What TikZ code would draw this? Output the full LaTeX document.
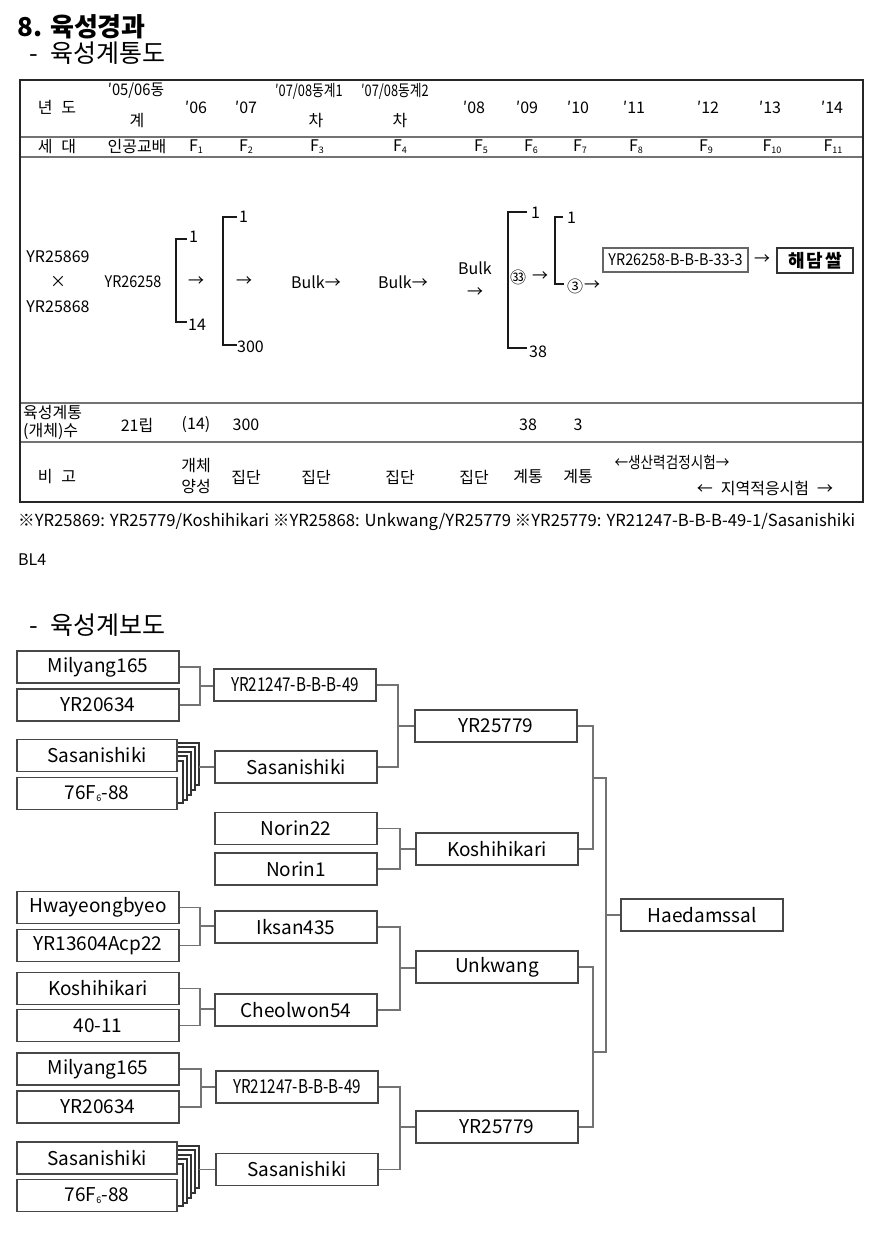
\documentclass[tikz,border=0pt]{standalone}
\usepackage{fontspec}
\setmainfont{Noto Sans CJK KR}
\newcommand\Fn[1]{F\raisebox{-2pt}{\fontsize{9}{9}\selectfont #1}}
\newcommand\Fs[1]{\raisebox{-2pt}{\fontsize{9}{9}\selectfont #1}}
\tikzset{
  tc/.style={inner sep=0pt, font=\fontsize{16}{18}\selectfont},
  tborder/.style={draw=black!85, line width=2pt},
  tline/.style={draw=black!55, line width=1.8pt},
  brk/.style={draw=black!90, line width=2pt},
  smallbox/.style={draw=black!60, line width=1.2pt, inner sep=0pt, font=\fontsize{16}{18}\selectfont},
  pbox/.style={draw=black!72, line width=1.4pt, fill=white, minimum width=162pt, minimum height=32pt, inner sep=0pt, font=\fontsize{19}{21}\selectfont},
  conn/.style={draw=black!55, line width=1.5pt},
  stackln/.style={draw=black!80, line width=1.3pt, fill=white},
}
\begin{document}
\begin{tikzpicture}[x=1pt,y=-1pt]
\useasboundingbox (0,0) rectangle (873,1252);
% ---- titles
\node[anchor=west, inner sep=0pt, font=\fontsize{26}{28}\selectfont\bfseries] (title) at (17,27) {8. 육성경과};
\node[anchor=west, inner sep=0pt, font=\fontsize{25}{27}\selectfont] (sub1) at (29,53) {-\hspace{13pt}육성계통도};
% ---- table frame
\draw[tline] (20,137) -- (863,137);
\draw[tline] (20,157) -- (863,157);
\draw[tline] (20,403) -- (863,403);
\draw[tline] (20,442) -- (863,442);
\draw[tborder] (20,80) rectangle (863,502);
% ---- header row
\node[tc] (h0) at (57,107) {년\hspace{9pt}도};
\node[tc] (h1a) at (136,91) {\scalebox{0.92}[1]{′05/06동}};
\node[tc] (h1b) at (137,121) {계};
\node[tc] (h2) at (196,107) {′06};
\node[tc] (h3) at (246,107) {′07};
\node[tc] (h4a) at (309,91) {\scalebox{0.8}[1]{′07/08동계1}};
\node[tc] (h4b) at (316,121) {차};
\node[tc] (h5a) at (395,91) {\scalebox{0.8}[1]{′07/08동계2}};
\node[tc] (h5b) at (400,121) {차};
\node[tc] (h6) at (474,107) {′08};
\node[tc] (h7) at (527,107) {′09};
\node[tc] (h8) at (578,107) {′10};
\node[tc] (h9) at (634,107) {′11};
\node[tc] (h10) at (708,107) {′12};
\node[tc] (h11) at (770,107) {′13};
\node[tc] (h12) at (832,107) {′14};
% ---- generation row
\node[tc] (g0) at (57,147) {세\hspace{9pt}대};
\node[tc] (g1) at (137,147) {인공교배};
\node[tc] (g2) at (196,147) {\Fn{1}};
\node[tc] (g3) at (246,147) {\Fn{2}};
\node[tc] (g4) at (317,147) {\Fn{3}};
\node[tc] (g5) at (400,147) {\Fn{4}};
\node[tc] (g6) at (481,147) {\Fn{5}};
\node[tc] (g7) at (531,147) {\Fn{6}};
\node[tc] (g8) at (580,147) {\Fn{7}};
\node[tc] (g9) at (636,147) {\Fn{8}};
\node[tc] (g10) at (706,147) {\Fn{9}};
\node[tc] (g11) at (772,147) {\Fn{10}};
\node[tc] (g12) at (833,147) {\Fn{11}};
% ---- body
\node[tc] (p1) at (58,257) {YR25869};
\node[tc] (px) at (58,282) {×};
\node[tc] (p2) at (58,307) {YR25868};
\node[tc] (cr) at (133,282) {\scalebox{0.9}[1]{YR26258}};
\draw[brk] (187,239) -- (176,239) -- (176,322) -- (187,322);
\node[tc, anchor=west] (b1t) at (189,237) {1};
\node[tc, anchor=west] (b1b) at (188,325) {14};
\node[tc] (ar1) at (196,282) {→};
\draw[brk] (237,217) -- (223,217) -- (223,345) -- (237,345);
\node[tc, anchor=west] (b2t) at (239,217) {1};
\node[tc, anchor=west] (b2b) at (237,347) {300};
\node[tc] (ar2) at (244,282) {→};
\node[tc] (bk1) at (316,282) {Bulk→};
\node[tc] (bk2) at (403,282) {Bulk→};
\node[tc] (bk3) at (475,268) {Bulk};
\node[tc] (ar3) at (475,293) {→};
\draw[brk] (527,212) -- (508,212) -- (508,348) -- (527,348);
\node[tc, anchor=west] (b3t) at (531,213) {1};
\node[tc, anchor=west] (b3b) at (529,352) {38};
\node[tc] (c33) at (518,277) {㉝};
\node[tc] (ar4) at (540,277) {→};
\draw[brk] (563,217) -- (555,217) -- (555,284) -- (564,284);
\node[tc, anchor=west] (b4t) at (567,218) {1};
\node[tc] (c3) at (575,286) {③};
\node[tc] (ar5) at (592,286) {→};
\node[smallbox, minimum width=145pt, minimum height=24pt] (line) at (675.5,260) {\scalebox{0.9}[1]{YR26258-B-B-B-33-3}};
\node[tc] (ar6) at (762,260) {→};
\node[smallbox, draw=black!80, minimum width=76pt, minimum height=25pt, font=\fontsize{18}{20}\selectfont\bfseries] (hd) at (815,260.5) {해\hspace{2pt}담\hspace{2pt}쌀};
% ---- line counts row
\node[tc, anchor=west] (n0a) at (23,413) {육성계통};
\node[tc, anchor=west] (n0b) at (23,431) {(개체)수};
\node[tc] (n1) at (137,425) {21립};
\node[tc] (n2) at (196,425) {(14)};
\node[tc] (n3) at (246,425) {300};
\node[tc] (n4) at (528,425) {38};
\node[tc] (n5) at (578,425) {3};
% ---- remarks row
\node[tc] (r0) at (57,477) {비\hspace{9pt}고};
\node[tc] (r1a) at (196,466) {개체};
\node[tc] (r1b) at (196,486) {양성};
\node[tc] (r2) at (246,477) {집단};
\node[tc] (r3) at (316,477) {집단};
\node[tc] (r4) at (400,477) {집단};
\node[tc] (r5) at (474,477) {집단};
\node[tc] (r6) at (528,477) {계통};
\node[tc] (r7) at (578,477) {계통};
\node[tc] (r8) at (672,462) {\scalebox{0.85}[1]{←생산력검정시험→}};
\node[tc] (r9) at (765,488) {←\hspace{8pt}지역적응시험\hspace{8pt}→};
% ---- footnote
\node[anchor=west, inner sep=0pt, font=\fontsize{14}{16}\selectfont] (fn1) at (18,522) {\resizebox{837pt}{!}{※YR25869: YR25779/Koshihikari ※YR25868: Unkwang/YR25779 ※YR25779: YR21247-B-B-B-49-1/Sasanishiki}};
\node[anchor=west, inner sep=0pt, font=\fontsize{16}{18}\selectfont] (fn2) at (18,560) {BL4};
% ---- pedigree title
\node[anchor=west, inner sep=0pt, font=\fontsize{25}{27}\selectfont] (sub2) at (29,625) {-\hspace{13pt}육성계보도};
% ---- stacks of cards
\foreach \dy in {0,403} {
  \foreach \r/\tp/\bt in {199/743/785, 195/747/790, 191/752/795, 187/756/800, 183/761/803} {
    \draw[stackln] (176,{\tp+\dy}) -- (\r,{\tp+\dy}) -- (\r,{\bt+\dy}) -- (176,{\bt+\dy});
  }
}
% ---- pedigree boxes
\node[pbox] (a1) at (98,667) {Milyang165};
\node[pbox] (a2) at (98,705) {YR20634};
\node[pbox, minimum width=160pt] (a3) at (97,755.5) {Sasanishiki};
\node[pbox, minimum width=160pt] (a4) at (97,793.5) {76F\Fs{6}-88};
\node[pbox] (b1) at (295,685) {\scalebox{0.8}[1]{YR21247-B-B-B-49}};
\node[pbox] (b2) at (296,767) {Sasanishiki};
\node[pbox] (b3) at (296,828.5) {Norin22};
\node[pbox] (b4) at (296,869) {Norin1};
\node[pbox] (c1) at (496,726) {YR25779};
\node[pbox] (c2) at (497,849) {Koshihikari};
\node[pbox] (hh) at (702,915) {Haedamssal};
\node[pbox] (a5) at (98,907.5) {Hwayeongbyeo};
\node[pbox] (a6) at (98,945.5) {YR13604Acp22};
\node[pbox] (a7) at (98,988.5) {Koshihikari};
\node[pbox] (a8) at (98,1025.5) {40-11};
\node[pbox] (b5) at (296,927) {Iksan435};
\node[pbox] (b6) at (296,1010) {Cheolwon54};
\node[pbox] (c3b) at (497,967) {Unkwang};
\node[pbox] (a9) at (98,1069) {Milyang165};
\node[pbox] (a10) at (98,1107) {YR20634};
\node[pbox, minimum width=160pt] (a11) at (97,1158) {Sasanishiki};
\node[pbox, minimum width=160pt] (a12) at (97,1195.5) {76F\Fs{6}-88};
\node[pbox] (b7) at (297,1087) {\scalebox{0.8}[1]{YR21247-B-B-B-49}};
\node[pbox] (b8) at (297,1169.5) {Sasanishiki};
\node[pbox] (c4) at (497,1127) {YR25779};
% ---- junction points
\coordinate (j1) at (200,686);
\coordinate (s1) at (199,767);
\coordinate (j2) at (398,726);
\coordinate (j3) at (400,849);
\coordinate (j4) at (593,778);
\coordinate (j5) at (200,926);
\coordinate (j6) at (200,1009);
\coordinate (j7) at (400,968);
\coordinate (j8) at (201,1087);
\coordinate (s2) at (199,1169.5);
\coordinate (j9) at (400,1127);
\coordinate (j10) at (593,1052);
\coordinate (j11) at (606,915);
% ---- connectors
\draw[conn] (a1.east) -| (j1) |- (a2.east);
\draw[conn] (j1) -- (j1 -| b1.west);
\draw[conn] (s1) -- (s1 -| b2.west);
\draw[conn] (b1.east) -| (j2) |- (b2.east);
\draw[conn] (j2) -- (j2 -| c1.west);
\draw[conn] (b3.east) -| (j3) |- (b4.east);
\draw[conn] (j3) -- (j3 -| c2.west);
\draw[conn] (c1.east) -| (j4) |- (c2.east);
\draw[conn] (a5.east) -| (j5) |- (a6.east);
\draw[conn] (j5) -- (j5 -| b5.west);
\draw[conn] (a7.east) -| (j6) |- (a8.east);
\draw[conn] (j6) -- (j6 -| b6.west);
\draw[conn] (b5.east) -| (j7) |- (b6.east);
\draw[conn] (j7) -- (j7 -| c3b.west);
\draw[conn] (a9.east) -| (j8) |- (a10.east);
\draw[conn] (j8) -- (j8 -| b7.west);
\draw[conn] (s2) -- (s2 -| b8.west);
\draw[conn] (b7.east) -| (j9) |- (b8.east);
\draw[conn] (j9) -- (j9 -| c4.west);
\draw[conn] (c3b.east) -| (j10) |- (c4.east);
\draw[conn] (j4) -| (j11) |- (j10);
\draw[conn] (j11) -- (j11 -| hh.west);
\end{tikzpicture}
\end{document}
